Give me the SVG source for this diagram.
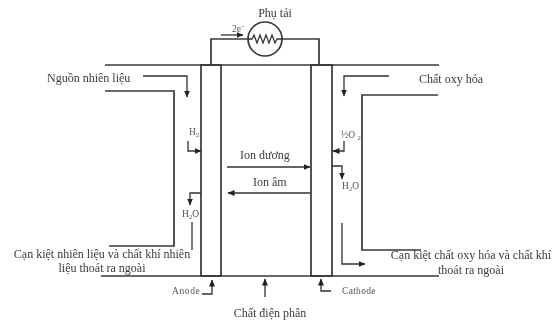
<svg xmlns="http://www.w3.org/2000/svg" width="553" height="324" viewBox="0 0 553 324">
<style>
text{font-family:"Liberation Serif",serif;fill:#3a3a3a;font-size:12px}
.l{fill:none;stroke:#383838;stroke-width:1.7}
.t{fill:none;stroke:#333;stroke-width:1.3}
.m{text-anchor:middle}
.s{font-size:9.5px;fill:#555}
</style>
<defs>
<marker id="a" markerWidth="8" markerHeight="7" refX="6.5" refY="3.5" orient="auto" markerUnits="userSpaceOnUse"><path d="M0 0.5L7 3.5L0 6.5Z" fill="#222"/></marker>
<filter id="soft" x="0" y="0" width="100%" height="100%"><feGaussianBlur stdDeviation="0.35"/></filter>
</defs>
<rect width="553" height="324" fill="#fff"/>
<g filter="url(#soft)">
<g id="connectors">
<path class="l" d="M105 65H439M101 276H439"/>
<path class="l" d="M105 91H174V246H109M438 95H362V250H421"/>
<path class="l" d="M211 65V39H248M282 39H319V65"/>
<path class="t" d="M143 76H187V97" marker-end="url(#a)"/>
<path class="t" d="M188 141V151H201" marker-end="url(#a)"/>
<path class="t" d="M201 193H190V205" marker-end="url(#a)"/>
<path class="t" d="M192 222V250"/>
<path class="t" d="M389 76H344V96" marker-end="url(#a)"/>
<path class="t" d="M344 141V151H333" marker-end="url(#a)"/>
<path class="t" d="M331 166H342V179" marker-end="url(#a)"/>
<path class="t" d="M342 223V264H365" marker-end="url(#a)"/>
<path class="t" d="M221 35H243" marker-end="url(#a)"/>
<path class="t" d="M227 167H310" marker-end="url(#a)"/>
<path class="t" d="M310 193H228" marker-end="url(#a)"/>
<path class="t" d="M202 294H212V280" marker-end="url(#a)"/>
<path class="t" d="M331 291H321V279" marker-end="url(#a)"/>
<path class="t" d="M265 297V279" marker-end="url(#a)"/>
</g>
<g id="anode"><rect class="l" x="201" y="65" width="20" height="211"/><text x="172" y="294" class="s" letter-spacing=".6">Anode</text></g>
<g id="cathode"><rect class="l" x="311" y="65" width="21" height="211"/><text x="342" y="294" class="s" letter-spacing=".3">Cathode</text></g>
<g id="load">
<circle class="l" cx="265" cy="39" r="17"/>
<path class="t" d="M248 39L252 39L254 35L257 43L260 35L263 43L266 35L269 43L272 35L275 43L277 39L282 39"/>
<text x="275" y="17" class="m">Phụ tải</text>
<text x="232" y="32" class="s">2e⁻</text>
</g>
<g id="labels">
<text x="47" y="82">Nguồn nhiên liệu</text>
<text x="419" y="83">Chất oxy hóa</text>
<text x="189" y="135" class="s">H<tspan dy="2" font-size="6.5">2</tspan></text>
<text x="341" y="138" class="s">½O <tspan dy="2" font-size="6.5">2</tspan></text>
<text x="182" y="217" class="s">H<tspan dy="2" font-size="6.5">2</tspan><tspan dy="-2">O</tspan></text>
<text x="342" y="189" class="s">H<tspan dy="2" font-size="6.5">2</tspan><tspan dy="-2">O</tspan></text>
<text x="240" y="159">Ion dương</text>
<text x="253" y="186">Ion âm</text>
<text x="102" y="258" class="m">Cạn kiệt nhiên liệu và chất khí nhiên</text>
<text x="102" y="272" class="m">liệu thoát ra ngoài</text>
<text x="471" y="259" class="m">Cạn kiệt chất oxy hóa và chất khí</text>
<text x="471" y="274" class="m">thoát ra ngoài</text>
<text x="270" y="317" class="m">Chất điện phân</text>
</g>
</g>
</svg>
